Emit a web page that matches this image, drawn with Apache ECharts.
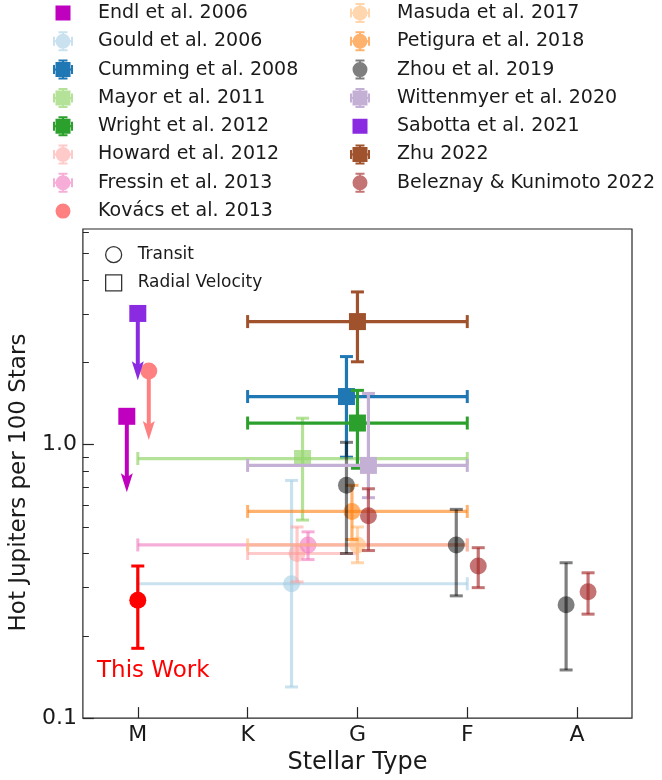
<!DOCTYPE html>
<html>
<head>
<meta charset="utf-8">
<script src="https://cdn.jsdelivr.net/npm/echarts@6/dist/echarts.min.js"></script>
<style>
  html, body { margin: 0; padding: 0; background: #fff; }
  #main { width: 662px; height: 780px; }
</style>
</head>
<body>
<div id="main"></div>
<script>
// axis ticks
const stellarTypes = ['M', 'K', 'G', 'F', 'A'];
const typeTicks = [0, 1, 2, 3, 4];
const yMinorTicks = [0.2, 0.3, 0.4, 0.5, 0.6, 0.7, 0.8, 0.9, 2, 3, 4, 5, 6];

// error bar rows: [x, y, yLow, yHigh, xLow, xHigh]  (x errors optional)
// upper limits:   [x, y, arrowTo]
const endl2006 = [[-0.1, 1.27, 0.67]];
const gould2006 = [[1.4, 0.31, 0.13, 0.74, 0, 3]];
const cumming2008 = [[1.9, 1.5, 0.9, 2.1, 1, 3]];
const mayor2011 = [[1.5, 0.89, 0.53, 1.25, 0, 3]];
const wright2012 = [[2.0, 1.2, 0.82, 1.58, 1, 3]];
const howard2012 = [[1.45, 0.40, 0.315, 0.50, 1, 2]];
const fressin2013 = [[1.55, 0.43, 0.38, 0.48, 0, 3]];
const kovacs2013 = [[0.1, 1.86, 1.04]];
const masuda2017 = [[2.0, 0.43, 0.37, 0.50, 1, 3]];
const petigura2018 = [[1.95, 0.57, 0.45, 0.71, 1, 3]];
const zhou2019 = [[1.9, 0.71, 0.40, 1.02], [2.9, 0.43, 0.28, 0.58], [3.9, 0.26, 0.15, 0.37]];
const wittenmyer2020 = [[2.1, 0.84, 0.64, 1.54, 1, 3]];
const sabotta2021 = [[0, 3.02, 1.72]];
const zhu2022 = [[2.0, 2.82, 2.01, 3.62, 1, 3]];
const beleznay2022 = [[2.1, 0.55, 0.41, 0.69], [3.1, 0.36, 0.30, 0.42], [4.1, 0.29, 0.24, 0.34]];
const thisWork = [[0, 0.27, 0.18, 0.36]];

const studies = [
  { name: 'Endl et al. 2006', rows: endl2006, shape: 'square', color: '#bf00bf', limit: true, col: 0 },
  { name: 'Gould et al. 2006', rows: gould2006, shape: 'circle', color: 'rgba(158,202,225,0.55)', col: 0 },
  { name: 'Cumming et al. 2008', rows: cumming2008, shape: 'square', color: '#1f77b4', col: 0 },
  { name: 'Mayor et al. 2011', rows: mayor2011, shape: 'square', color: 'rgba(150,214,110,0.7)', col: 0 },
  { name: 'Wright et al. 2012', rows: wright2012, shape: 'square', color: '#2ca02c', col: 0 },
  { name: 'Howard et al. 2012', rows: howard2012, shape: 'circle', color: 'rgba(255,152,150,0.5)', col: 0 },
  { name: 'Fressin et al. 2013', rows: fressin2013, shape: 'circle', color: 'rgba(240,120,190,0.6)', col: 0 },
  { name: 'Kovács et al. 2013', rows: kovacs2013, shape: 'circle', color: '#ff8080', limit: true, col: 0 },
  { name: 'Masuda et al. 2017', rows: masuda2017, shape: 'circle', color: 'rgba(255,187,120,0.6)', col: 1 },
  { name: 'Petigura et al. 2018', rows: petigura2018, shape: 'circle', color: 'rgba(255,127,14,0.6)', col: 1 },
  { name: 'Zhou et al. 2019', rows: zhou2019, shape: 'circle', color: 'rgba(0,0,0,0.5)', col: 1 },
  { name: 'Wittenmyer et al. 2020', rows: wittenmyer2020, shape: 'square', color: '#c5b0d5', col: 1 },
  { name: 'Sabotta et al. 2021', rows: sabotta2021, shape: 'square', color: '#8a2be2', limit: true, col: 1 },
  { name: 'Zhu 2022', rows: zhu2022, shape: 'square', color: '#a0522d', col: 1 },
  { name: 'Beleznay & Kunimoto 2022', rows: beleznay2022, shape: 'circle', color: 'rgba(165,42,42,0.65)', col: 1 },
  { name: 'This Work', rows: thisWork, shape: 'circle', color: '#ff0000', col: -1 }
];

const FONT = 'DejaVu Sans';
const chart = echarts.init(document.getElementById('main'));

// draws one point with its error bars (or upper-limit arrow)
function makeRenderer(study) {
  const c = study.color;
  return function (params, api) {
    const row = study.rows[params.dataIndex];
    const p = api.coord([row[0], row[1]]);
    const els = [];
    const lw = 3.2, cap = 6.5;
    const seg = (x1, y1, x2, y2, w) => ({
      type: 'line', shape: { x1: x1, y1: y1, x2: x2, y2: y2 },
      style: { stroke: c, lineWidth: w || lw }
    });
    if (study.limit) {
      const tip = api.coord([row[0], row[2]]);
      els.push(seg(p[0], p[1], tip[0], tip[1] - 12, 4));
      els.push({
        type: 'polygon',
        shape: { points: [[tip[0] - 6, tip[1] - 19], [tip[0], tip[1] - 15], [tip[0] + 6, tip[1] - 19], [tip[0], tip[1]]] },
        style: { fill: c }
      });
    } else {
      const lo = api.coord([row[0], row[2]]);
      const hi = api.coord([row[0], row[3]]);
      els.push(seg(lo[0], lo[1], hi[0], hi[1]));
      els.push(seg(lo[0] - cap, lo[1], lo[0] + cap, lo[1], 3));
      els.push(seg(hi[0] - cap, hi[1], hi[0] + cap, hi[1], 3));
      if (row.length > 4) {
        const xl = api.coord([row[4], row[1]]);
        const xh = api.coord([row[5], row[1]]);
        els.push(seg(xl[0], xl[1], xh[0], xh[1]));
        els.push(seg(xl[0], xl[1] - cap, xl[0], xl[1] + cap, 3));
        els.push(seg(xh[0], xh[1] - cap, xh[0], xh[1] + cap, 3));
      }
    }
    if (study.shape === 'circle') {
      els.push({ type: 'circle', shape: { cx: p[0], cy: p[1], r: 8.5 }, style: { fill: c } });
    } else {
      els.push({ type: 'rect', shape: { x: p[0] - 8.5, y: p[1] - 8.5, width: 17, height: 17 }, style: { fill: c } });
    }
    return { type: 'group', children: els };
  };
}

// legend icons in a 22x22 box, corner specks keep the box size
function legendIcon(study) {
  let d = 'M0 0h0.05v0.05h-0.05z M21.95 21.95h0.05v0.05h-0.05z ';
  d += study.shape === 'circle' ? 'M3.5 11a7.5 7.5 0 1 1 15 0a7.5 7.5 0 1 1 -15 0z ' : 'M3.5 3.5h15v15h-15z ';
  if (!study.limit) {
    d += 'M10 1h2v20h-2z M6.5 1h9v2h-9z M6.5 19h9v2h-9z ';
    if (study.rows[0].length > 4) {
      d += 'M1 10h20v2h-20z M1 6.5h2v9h-2z M19 6.5h2v9h-2z';
    }
  }
  return 'path://' + d;
}

const series = studies.map(s => ({
  type: 'custom',
  name: s.name,
  coordinateSystem: 'cartesian2d',
  xAxisIndex: 0,
  yAxisIndex: 0,
  itemStyle: { color: s.color },
  encode: { x: 0, y: 1 },
  data: s.rows,
  renderItem: makeRenderer(s),
  silent: true
}));
// method key (dummy series for the inner legend)
series.push({ type: 'scatter', name: 'Transit', data: [], itemStyle: { color: '#000' } });
series.push({ type: 'scatter', name: 'Radial Velocity', data: [], itemStyle: { color: '#000' } });

function mainLegend(col, left, gap) {
  return {
    orient: 'vertical',
    left: left,
    top: 2,
    padding: 0,
    itemWidth: 22,
    itemHeight: 22,
    itemGap: 6.3,
    selectedMode: false,
    data: studies.filter(s => s.col === col).map(s => ({ name: s.name, icon: legendIcon(s) })),
    formatter: name => '{g|}' + name,
    textStyle: {
      fontFamily: FONT, fontSize: 19, color: '#1a1a1a',
      rich: { g: { width: gap } }
    }
  };
}

const option = {
  backgroundColor: '#fff',
  animation: false,
  grid: {
    left: 81, right: 30, top: 229, bottom: 60,
    show: true, borderColor: '#262626', borderWidth: 1.2, backgroundColor: 'transparent'
  },
  legend: [
    mainLegend(0, 52, 19),
    mainLegend(1, 349, 21),
    {
      orient: 'vertical',
      left: 105,
      top: 246,
      padding: 0,
      itemWidth: 16,
      itemHeight: 16,
      itemGap: 11,
      selectedMode: false,
      data: [{ name: 'Transit', icon: 'circle' }, { name: 'Radial Velocity', icon: 'rect' }],
      itemStyle: { color: '#fff', borderColor: '#000', borderWidth: 1.3 },
      formatter: name => '{g|}' + name,
      textStyle: {
        fontFamily: FONT, fontSize: 17, color: '#1a1a1a',
        rich: { g: { width: 11 } }
      }
    }
  ],
  xAxis: {
    type: 'value',
    min: -0.5,
    max: 4.5,
    name: 'Stellar Type',
    nameLocation: 'middle',
    nameGap: 27,
    nameTextStyle: { fontFamily: FONT, fontSize: 24, color: '#1a1a1a' },
    axisLine: { show: false, onZero: false },
    splitLine: { show: false },
    axisTick: { inside: true, length: 11, customValues: typeTicks, lineStyle: { color: '#262626', width: 1.2 } },
    axisLabel: {
      customValues: typeTicks,
      formatter: v => stellarTypes[Math.round(v)],
      fontFamily: FONT, fontSize: 22, color: '#1a1a1a', margin: 6
    }
  },
  yAxis: [
    {
      type: 'log',
      logBase: 10,
      min: 0.1,
      max: 6.15,
      position: 'left',
      name: 'Hot Jupiters per 100 Stars',
      nameLocation: 'middle',
      nameGap: 40,
      nameTextStyle: { fontFamily: FONT, fontSize: 23, color: '#1a1a1a', padding: [0, 18, 0, 0] },
      axisLine: { show: false, onZero: false },
      splitLine: { show: false },
      axisTick: { inside: true, length: 11, lineStyle: { color: '#262626', width: 1.2 } },
      axisLabel: {
        showMaxLabel: false,
        formatter: v => Number(v).toFixed(1),
        fontFamily: FONT, fontSize: 22, color: '#1a1a1a', margin: 6
      }
    },
    {
      type: 'log',
      logBase: 10,
      min: 0.1,
      max: 6.15,
      position: 'left',
      offset: 0,
      axisLine: { show: false, onZero: false },
      splitLine: { show: false },
      axisLabel: { show: false },
      axisTick: { inside: true, length: 6, customValues: yMinorTicks, lineStyle: { color: '#262626', width: 1 } }
    }
  ],
  graphic: [
    {
      type: 'text',
      left: 97,
      top: 660,
      style: { text: 'This Work', fill: '#ff0000', font: '23px "DejaVu Sans"' }
    }
  ],
  series: series
};

chart.setOption(option);
</script>
</body>
</html>
